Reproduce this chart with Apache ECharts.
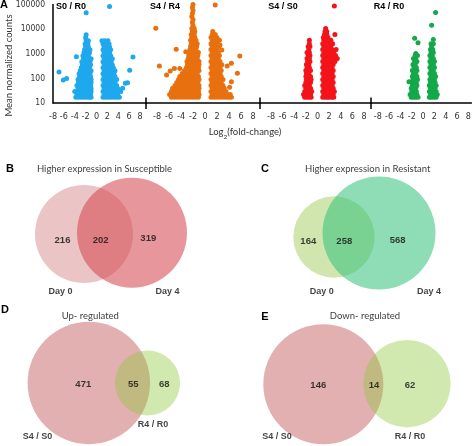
<!DOCTYPE html>
<html><head><meta charset="utf-8">
<script src="https://cdn.jsdelivr.net/npm/echarts@6/dist/echarts.min.js"></script>
<style>html,body{margin:0;padding:0;background:#fff}#c{width:474px;height:446px}</style>
</head><body><div id="c"></div>
<script>
// ---------- Panel A data: [count, log2FC values...] rows + outliers [log2FC, count] ----------
const panelTitles = ['S0 / R0', 'S4 / R4', 'S4 / S0', 'R4 / R0'];
const xTickLabels = [-8, -6, -4, -2, 0, 2, 4, 6, 8];
const yTickLabels = [10, 100, 1000, 10000, 100000];

const s0r0Rows = [
  [17,-3.8,-3.3,-2.8,-2.3,-1.8,-1.3,-1.0, 1.2,1.7,2.2,2.7,3.2,3.7,4.2],
  [22,-3.6,-3.1,-2.6,-2.1,-1.6,-1.1, 1.4,1.9,2.4,2.9,3.4,3.9],
  [29,-4.0,-3.5,-3.0,-2.5,-2.0,-1.5,-1.0, 1.2,1.7,2.2,2.7,3.2,3.7,4.4],
  [39,-3.4,-2.9,-2.4,-1.9,-1.4,-1.0, 1.4,1.9,2.4,2.9,3.4,3.9],
  [51,-3.6,-3.1,-2.6,-2.1,-1.6,-1.1, 1.2,1.7,2.2,2.7,3.2,3.7],
  [68,-3.3,-2.8,-2.3,-1.8,-1.3,-1.0, 1.4,1.9,2.4,2.9,3.4],
  [90,-3.4,-2.9,-2.4,-1.9,-1.4,-1.0, 1.2,1.7,2.2,2.7,3.2,3.7],
  [118,-3.1,-2.6,-2.1,-1.6,-1.1, 1.4,1.9,2.4,2.9,3.4],
  [155,-3.2,-2.7,-2.2,-1.7,-1.2, 1.2,1.7,2.2,2.7,3.2],
  [205,-3.0,-2.5,-2.0,-1.5,-1.0, 1.4,1.9,2.4,2.9,3.4],
  [270,-2.8,-2.3,-1.8,-1.3, 1.2,1.7,2.2,2.7,3.1],
  [360,-2.6,-2.1,-1.6,-1.1, 1.4,1.9,2.4,2.9],
  [475,-2.7,-2.2,-1.7,-1.2, 1.2,1.7,2.2,2.7],
  [630,-2.4,-1.9,-1.4,-1.0, 1.4,1.9,2.4,2.9],
  [830,-2.5,-2.0,-1.5, 1.2,1.7,2.2,2.6],
  [1100,-2.3,-1.8,-1.3, 1.4,1.9,2.4],
  [1450,-2.2,-1.7,-1.2, 1.2,1.7,2.2,2.6],
  [1900,-2.0,-1.5, 1.4,1.9,2.4],
  [2500,-2.1,-1.6, 1.2,1.7,2.3],
  [3400,-1.9,-1.5, 1.0,1.5,2.1],
  [4450,-2.0],
  [5900,-1.9]
];
const s0r0Out = [[2.4,83000],[-1.9,46000],[-6.9,180],[-6.1,85],[-5.5,100],[-3.7,750],[6.7,740],[6.1,215],[5.3,63],[5.7,66],[4.4,29],[4.8,40]];

const s4r4Rows = [
  [17,-5.6,-5.1,-4.6,-4.1,-3.6,-3.1,-2.6,-2.1,-1.6,-1.1, 1.0,1.5,2.0,2.5,3.0,3.5,4.0,4.4],
  [22,-5.9,-5.4,-4.9,-4.4,-3.9,-3.4,-2.9,-2.4,-1.9,-1.4,-1.0, 1.2,1.7,2.2,2.7,3.2,3.7,4.2],
  [29,-5.6,-5.1,-4.6,-4.1,-3.6,-3.1,-2.6,-2.1,-1.6,-1.1, 1.0,1.5,2.0,2.5,3.0,3.5],
  [39,-5.4,-4.9,-4.4,-3.9,-3.4,-2.9,-2.4,-1.9,-1.4,-1.0, 1.2,1.7,2.2,2.7,3.2],
  [51,-5.0,-4.5,-4.0,-3.5,-3.0,-2.5,-2.0,-1.5,-1.0, 1.0,1.5,2.0,2.5,3.0],
  [68,-4.7,-4.2,-3.7,-3.2,-2.7,-2.2,-1.7,-1.2, 1.2,1.7,2.2,2.7],
  [90,-4.4,-3.9,-3.4,-2.9,-2.4,-1.9,-1.4,-1.0, 1.0,1.5,2.0,2.5,3.0],
  [118,-4.2,-3.6,-3.1,-2.6,-2.1,-1.6,-1.1, 1.2,1.7,2.2,2.7],
  [155,-3.8,-3.3,-2.8,-2.3,-1.8,-1.3, 1.0,1.5,2.0,2.5],
  [205,-3.4,-2.9,-2.4,-1.9,-1.4,-1.0, 1.2,1.7,2.2,2.7],
  [270,-3.1,-2.6,-2.1,-1.6,-1.1, 1.0,1.5,2.0,2.5],
  [360,-2.9,-2.4,-1.9,-1.4,-1.0, 1.2,1.7,2.2],
  [475,-3.0,-2.5,-2.0,-1.5,-1.0, 1.0,1.5,2.0,2.5],
  [630,-2.8,-2.3,-1.8,-1.3, 1.2,1.7,2.2],
  [830,-2.7,-2.2,-1.7,-1.2, 1.0,1.5,2.0,2.4],
  [1100,-2.6,-2.1,-1.6,-1.1, 1.2,1.7,2.2],
  [1450,-2.5,-2.0,-1.5, 1.0,1.5,2.0],
  [1900,-2.4,-1.9,-1.4, 1.2,1.7,2.3],
  [2500,-2.3,-1.8,-1.3, 1.0,1.5,2.1],
  [3400,-2.4,-1.9,-1.5, 1.2,1.7,2.4],
  [4450,-2.2,-1.7, 1.0,1.5,2.0],
  [5900,-2.3,-1.8, 1.2,1.7],
  [7800,-2.1,-1.7, 1.3],
  [10300,-2.2,-1.8],
  [13500,-2.0],
  [18000,-2.1],
  [23500,-2.0],
  [31000,-2.2],
  [41000,-2.1],
  [54000,-2.0],
  [72000,-2.1],
  [95000,-2.0]
];
const s4r4Out = [[1.7,91000],[-8.2,10500],[-7.6,310],[-4.8,1480],[-3.2,1180],[-6.4,135],[-5.8,195],[-5.1,250],[-4.2,250],
  [3.7,310],[4.4,400],[5.8,790],[5.4,160],[4.4,73],[2.8,350],[4.1,43],[2.5,2200],[2.8,1380]];

const s4s0Rows = [
  [17,-2.2,-1.8,-1.4,-1.1, 0.9,1.3,1.7,2.1,2.5,2.8],
  [22,-2.4,-2.0,-1.6,-1.2, 1.1,1.5,1.9,2.3,2.7],
  [29,-2.2,-1.8,-1.4,-1.0, 0.9,1.3,1.7,2.1,2.5,2.9],
  [39,-2.0,-1.6,-1.2, 1.1,1.5,1.9,2.3,2.7],
  [51,-2.2,-1.8,-1.4, 0.9,1.3,1.7,2.1,2.5],
  [68,-2.0,-1.6,-1.2, 1.1,1.5,1.9,2.3,2.7],
  [90,-1.9,-1.5,-1.1, 0.9,1.3,1.7,2.1,2.5],
  [118,-2.0,-1.6,-1.2, 1.1,1.5,1.9,2.3,2.7],
  [155,-1.9,-1.5, 0.9,1.3,1.7,2.1,2.5],
  [205,-2.0,-1.6,-1.2, 1.1,1.5,1.9,2.3,2.7],
  [270,-1.8,-1.4, 0.9,1.3,1.7,2.1,2.5],
  [360,-1.9,-1.5, 1.1,1.5,1.9,2.3,2.7],
  [475,-1.7,-1.3, 0.9,1.3,1.7,2.1,2.5,3.0],
  [630,-1.8,-1.4, 1.1,1.5,1.9,2.3,2.7,3.4],
  [830,-1.6,-1.3, 0.9,1.3,1.7,2.1,2.5,3.1],
  [1100,-1.8,-1.4, 1.1,1.5,1.9,2.3,2.8],
  [1450,-1.5, 0.9,1.3,1.7,2.1,2.5,3.2],
  [1900,-1.6,-1.3, 1.1,1.5,1.9,2.3],
  [2500,-1.4, 0.9,1.3,1.7,2.1,2.6],
  [3400,-1.4, 1.1,1.5,1.9,2.3],
  [4450, 1.0,1.4,1.8],
  [5900, 1.2,1.6,3.0],
  [7800, 1.3,1.6],
  [10300, 1.4]
];
const s4s0Out = [[2.9,83000]];

const r4r0Rows = [
  [17,-2.1,-1.7,-1.3,-0.9, 1.1,1.5,1.9,2.3],
  [22,-2.3,-1.9,-1.5,-1.1, 1.3,1.7,2.1,2.5],
  [29,-2.0,-1.6,-1.2, 1.1,1.5,1.9,2.3],
  [39,-2.1,-1.7,-1.3, 1.3,1.7,2.1],
  [51,-1.9,-1.5,-1.1, 1.1,1.5,1.9,2.3],
  [68,-2.0,-1.6,-1.2, 1.3,1.7,2.1],
  [90,-1.8,-1.4,-1.0, 1.2,1.6,2.0],
  [118,-1.9,-1.5,-1.1, 1.4,1.8,2.2],
  [155,-1.7,-1.3, 1.2,1.6,2.0],
  [205,-1.9,-1.5,-1.1, 1.4,1.8],
  [270,-1.6,-1.2, 1.2,1.6,2.0],
  [360,-1.8,-1.4, 1.4,1.8],
  [475,-1.5,-1.1, 1.2,1.6,2.0],
  [630,-1.7,-1.3, 1.4,1.8],
  [830,-1.4,-1.0, 1.2,1.6],
  [1100, 1.4,1.8],
  [1450, 1.3,1.7],
  [1900, 1.5],
  [2500, 1.4,1.8]
];
const r4r0Out = [[-2.5,73],[-1.3,1000],[-0.9,2750],[-1.5,4100],[1.8,3700],[1.5,14000],[2.2,45000]];

// ---------- Venn data ----------
const vennLetters = ['B', 'C', 'D', 'E'];
const vennTitles = ['Higher expression in Susceptible', 'Higher expression in Resistant', 'Up- regulated', 'Down- regulated'];
const vennSetLabels = [['Day 0', 'Day 4'], ['Day 0', 'Day 4'], ['S4 / S0', 'R4 / R0'], ['S4 / S0', 'R4 / R0']];
const vennCounts = [[216, 202, 319], [164, 258, 568], [471, 55, 68], [146, 14, 62]]; // only-1, both, only-2

// ---------- layout / style ----------
const NARROW = "'Liberation Sans Narrow','DejaVu Sans Condensed','Arial Narrow',sans-serif";
const SANS = "Lato,'Open Sans',sans-serif";
const BOLDF = "'Liberation Sans',Arial,sans-serif";
const dotColors = ['#1ea8ee', '#e8700f', '#f3141a', '#14a84b'];
const panelGrids = [ // left, width, xmin, xmax
  [53, 93, -8, 9.1], [146, 114, -9.833, 9.167], [260, 111, -9.892, 9.205], [371, 103, -9.204, 8.516]
];
const panelTitlePos = [[71, 7], [165, 7], [283, 7], [389, 7]];
const vennLayout = [
  {c: [[84, 234, 49], [132, 232.7, 55]], fill: ['#e6b5b7', 'rgba(212,70,78,0.70)'],
   num: [[62.5, 240], [100.7, 240], [148.3, 238.5]], set: [[60.5, 291.7], [167.5, 291.7]], title: [104.5, 169], letter: [10, 169]},
  {c: [[334, 237, 40.7], [379, 233, 56.5]], fill: ['#c5e09a', 'rgba(55,195,125,0.70)'],
   num: [[308.3, 241.5], [344.3, 241.5], [397.7, 240.7]], set: [[321.7, 291.7], [429, 291.7]], title: [367.7, 169], letter: [265, 169]},
  {c: [[88.8, 383, 61.2], [147.5, 383, 32.5]], fill: ['#db9c9e', 'rgba(139,197,55,0.5)'],
   num: [[83.3, 384.3], [133.3, 384.3], [164.3, 384.3]], set: [[37.5, 436.7], [153, 425]], title: [90.3, 316], letter: [5, 310]},
  {c: [[323.3, 384.3, 60], [407, 383.7, 43.7]], fill: ['#db9c9e', 'rgba(139,197,55,0.5)'],
   num: [[318.3, 385.7], [374, 385.7], [410, 385.7]], set: [[277, 436.7], [410, 436.7]], title: [365, 316], letter: [265, 317]}
];

function build(rows, out) {
  const d = [];
  rows.forEach(r => { const c = r[0]; for (let i = 1; i < r.length; i++) d.push([r[i], c]); });
  out.forEach(p => d.push([p[0], p[1]]));
  return d;
}
const panelData = [build(s0r0Rows, s0r0Out), build(s4r4Rows, s4r4Out), build(s4s0Rows, s4s0Out), build(r4r0Rows, r4r0Out)];

const grids = [], xAxes = [], yAxes = [], series = [];
panelGrids.forEach((g, i) => {
  grids.push({left: g[0], width: g[1], top: 4, height: 99});
  xAxes.push({type: 'value', gridIndex: i, min: g[2], max: g[3],
    axisLine: {show: true, onZero: false, lineStyle: {color: '#000', width: 1.5}},
    axisTick: {show: false}, splitLine: {show: false},
    axisLabel: {customValues: xTickLabels, color: '#333', fontSize: 9, fontFamily: NARROW, margin: 9}});
  yAxes.push({type: 'log', logBase: 10, gridIndex: i, min: yTickLabels[0], max: yTickLabels[yTickLabels.length - 1],
    show: i === 0,
    axisLine: {show: true, onZero: false, lineStyle: {color: '#000', width: 1.5}},
    axisTick: {show: false}, splitLine: {show: false},
    axisLabel: {color: '#333', fontSize: 8.5, fontFamily: NARROW, margin: 8, formatter: v => String(v)}});
  series.push({type: 'scatter', xAxisIndex: i, yAxisIndex: i, data: panelData[i], symbolSize: 5,
    itemStyle: {color: dotColors[i], opacity: 1}, silent: true, animation: false});
});

// Venn grid (pixel space, hidden)
grids.push({left: 0, top: 0, width: 474, height: 446});
xAxes.push({type: 'value', gridIndex: 4, min: 0, max: 474, show: false});
yAxes.push({type: 'value', gridIndex: 4, min: 0, max: 446, inverse: true, show: false});

const circleData = [], numData = [], setData = [];
vennLayout.forEach((L, k) => {
  L.c.forEach((c, j) => circleData.push({value: [c[0], c[1]], symbolSize: c[2] * 2, itemStyle: {color: L.fill[j]}}));
  vennCounts[k].forEach((n, j) => numData.push([L.num[j][0], L.num[j][1], n]));
  vennSetLabels[k].forEach((s, j) => setData.push([L.set[j][0], L.set[j][1], s]));
});
series.push({type: 'scatter', xAxisIndex: 4, yAxisIndex: 4, data: circleData, symbol: 'circle', silent: true, animation: false});
const numLabel = {show: true, position: 'inside', formatter: p => p.value[2], color: '#111', fontWeight: 'bold', fontSize: 9.5, fontFamily: BOLDF};
const setLabel = Object.assign({}, numLabel, {fontSize: 9});
series.push({type: 'scatter', xAxisIndex: 4, yAxisIndex: 4, data: numData, symbolSize: 0, silent: true, animation: false, label: numLabel});
series.push({type: 'scatter', xAxisIndex: 4, yAxisIndex: 4, data: setData, symbolSize: 0, silent: true, animation: false, label: setLabel});

const graphics = [];
function txt(x, y, text, font, fill, extra) {
  graphics.push(Object.assign({type: 'text', x: x, y: y, silent: true,
    style: {text: text, font: font, fill: fill, align: 'center', verticalAlign: 'middle', textAlign: 'center', textVerticalAlign: 'middle'}}, extra || {}));
}
txt(4, 5, 'A', "bold 11px " + BOLDF, '#000');
panelTitles.forEach((t, i) => txt(panelTitlePos[i][0], panelTitlePos[i][1], t, "bold 9px " + BOLDF, '#000'));
txt(9, 65.5, 'Mean normalized counts', "9.5px " + SANS, '#333', {rotation: Math.PI / 2});
graphics.push({type: 'text', x: 245, y: 131, silent: true,
  style: {text: '{a|Log}{s|2}{a|(fold-change)}', align: 'center', verticalAlign: 'middle', textAlign: 'center', textVerticalAlign: 'middle',
    rich: {a: {fontSize: 9.5, fontFamily: SANS, fill: '#333', color: '#333', lineHeight: 12, verticalAlign: 'bottom'},
           s: {fontSize: 6.5, fontFamily: SANS, fill: '#333', color: '#333', lineHeight: 12, verticalAlign: 'bottom', padding: [0, 0, -3, 0]}}}});
[146, 260, 371].forEach(x => graphics.push({type: 'line', silent: true, shape: {x1: x, y1: 97.5, x2: x, y2: 109}, style: {stroke: '#000', lineWidth: 1.5}}));
vennLayout.forEach((L, k) => {
  txt(L.letter[0], L.letter[1], vennLetters[k], "bold 11px " + BOLDF, '#000');
  txt(L.title[0], L.title[1], vennTitles[k], "9.5px " + SANS, '#404040');
});

const chart = echarts.init(document.getElementById('c'), null, {renderer: 'canvas'});
chart.setOption({animation: false, grid: grids, xAxis: xAxes, yAxis: yAxes, series: series, graphic: {elements: graphics}});
</script></body></html>
